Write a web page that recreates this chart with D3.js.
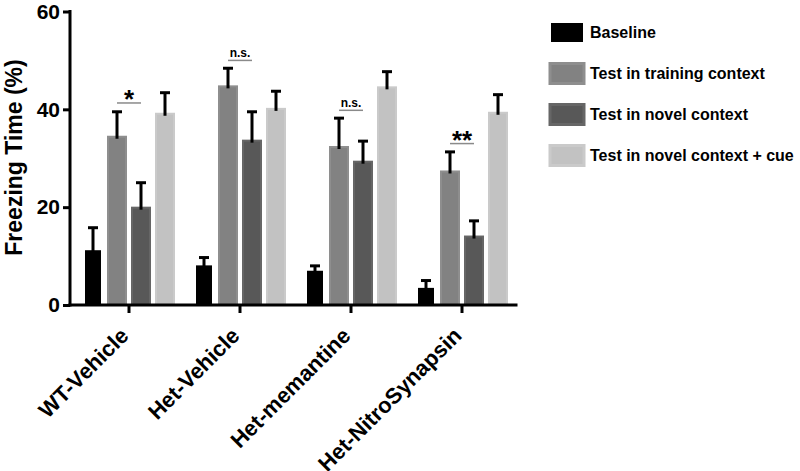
<!DOCTYPE html>
<html>
<head>
<meta charset="utf-8">
<script src="https://cdn.jsdelivr.net/npm/d3@7"></script>
<style>
  html, body { margin: 0; padding: 0; background: #fff; }
  svg { display: block; }
  text { font-family: "Liberation Sans", Arial, sans-serif; font-weight: bold; fill: #000; }
</style>
</head>
<body>
<svg id="chart" width="800" height="471"></svg>
<script>
// ---- Data ----
const groups = ["WT-Vehicle", "Het-Vehicle", "Het-memantine", "Het-NitroSynapsin"];
const seriesNames = ["Baseline", "Test in training context", "Test in novel context", "Test in novel context + cue"];
const baseline   = [11.2, 8.1, 7.0, 3.5];
const training   = [34.6, 44.9, 32.5, 27.5];
const novel      = [20.1, 33.8, 29.5, 14.2];
const novelCue   = [39.3, 40.3, 44.7, 39.5];
const baselineErr = [4.6, 1.6, 1.0, 1.5];
const trainingErr = [4.9, 3.5, 5.7, 3.8];
const novelErr    = [4.9, 5.7, 4.0, 3.0];
const novelCueErr = [4.1, 3.4, 3.0, 3.5];
const yTicks = [0, 20, 40, 60];
const sigLabels = ["*", "n.s.", "n.s.", "**"];
const sigLevels = [41.3, 50.0, 39.8, 33.0];

const seriesValues = [baseline, training, novel, novelCue];
const seriesErrors = [baselineErr, trainingErr, novelErr, novelCueErr];
const fills   = ["#000000", "#828282", "#585858", "#c2c2c2"];
const strokes = ["#000000", "#8e8e8e", "#666666", "#cacaca"];

// ---- Layout ----
const svg = d3.select("#chart");
const y = d3.scaleLinear().domain([0, 60]).range([305, 11.5]);
const x0 = d3.scaleBand().domain(groups).range([73.5, 517.5]).padding(0);
const x1 = d3.scaleBand().domain(seriesNames).range([-48, 48]).paddingInner(1/6).paddingOuter(1/12);

// Bars
groups.forEach((g, gi) => {
  const gc = x0(g) + x0.bandwidth() / 2;
  seriesNames.forEach((s, si) => {
    const v = seriesValues[si][gi];
    const e = seriesErrors[si][gi];
    const bx = gc + x1(s);
    const bw = x1.bandwidth();
    const cx = bx + bw / 2;
    if (si === 0) {
      svg.append("rect")
        .attr("x", bx + 2).attr("width", bw - 4)
        .attr("y", y(v)).attr("height", y(0) - y(v))
        .attr("fill", fills[si]);
    } else {
      svg.append("rect")
        .attr("x", bx + 1).attr("width", bw - 2)
        .attr("y", y(v) + 1).attr("height", y(0) - y(v) - 1)
        .attr("fill", fills[si])
        .attr("stroke", strokes[si]).attr("stroke-width", 2);
    }
    // error bar
    svg.append("line")
      .attr("x1", cx).attr("x2", cx)
      .attr("y1", y(v) + 3).attr("y2", y(v + e))
      .attr("stroke", "#000").attr("stroke-width", 3);
    svg.append("line")
      .attr("x1", cx - 5).attr("x2", cx + 5)
      .attr("y1", y(v + e)).attr("y2", y(v + e))
      .attr("stroke", "#000").attr("stroke-width", 3);
  });
});

// Significance annotations
groups.forEach((g, gi) => {
  const gc = x0(g) + x0.bandwidth() / 2;
  const xa = gc + x1(seriesNames[1]) + x1.bandwidth() / 2;
  const xb = gc + x1(seriesNames[2]) + x1.bandwidth() / 2;
  const ly = y(sigLevels[gi]);
  svg.append("line")
    .attr("x1", xa).attr("x2", xb).attr("y1", ly).attr("y2", ly)
    .attr("stroke", "#8a8a8a").attr("stroke-width", 1.5);
  const isStar = sigLabels[gi].startsWith("*");
  svg.append("text")
    .attr("x", (xa + xb) / 2)
    .attr("y", isStar ? ly + 5 : ly - 3.5)
    .attr("text-anchor", "middle")
    .attr("font-size", isStar ? 26 : 12)
    .text(sigLabels[gi]);
});

// Y axis
const yAxis = svg.append("g").attr("transform", "translate(70,0)")
  .call(d3.axisLeft(y).tickValues(yTicks).tickSize(7).tickPadding(3).tickFormat(d3.format("d")));
yAxis.select(".domain").attr("stroke", "#000").attr("stroke-width", 3)
  .attr("d", `M0,${y(60) - 1.5}V${y(0) + 1.5}`);
yAxis.selectAll(".tick line").attr("stroke", "#000").attr("stroke-width", 3);
yAxis.selectAll(".tick text").attr("font-size", 21).attr("font-family", "Liberation Sans, Arial, sans-serif")
  .attr("font-weight", "bold").attr("fill", "#000");

// X axis
const xAxis = svg.append("g").attr("transform", `translate(0,${y(0)})`)
  .call(d3.axisBottom(x0).tickSize(8).tickFormat(""));
xAxis.select(".domain").attr("stroke", "#000").attr("stroke-width", 3)
  .attr("d", `M68.5,0H517.5`);
xAxis.selectAll(".tick line").attr("stroke", "#000").attr("stroke-width", 3);

// X labels (rotated)
groups.forEach(g => {
  const gc = x0(g) + x0.bandwidth() / 2;
  svg.append("text")
    .attr("transform", `translate(${gc + 1},337) rotate(-45)`)
    .attr("text-anchor", "end")
    .attr("font-size", 22)
    .text(g);
});

// Y title
svg.append("text")
  .attr("transform", "translate(21.5,157.5) rotate(-90)")
  .attr("text-anchor", "middle")
  .attr("font-size", 23)
  .text("Freezing Time (%)");

// Legend
seriesNames.forEach((s, si) => {
  const cy = 32.5 + si * 41;
  if (si === 0) {
    svg.append("rect").attr("x", 551).attr("y", cy - 9.5).attr("width", 32).attr("height", 19).attr("fill", "#000");
  } else {
    svg.append("rect").attr("x", 550).attr("y", cy - 10).attr("width", 34).attr("height", 20)
      .attr("fill", fills[si]).attr("stroke", strokes[si]).attr("stroke-width", 3);
  }
  svg.append("text")
    .attr("x", 590).attr("y", cy).attr("dy", "0.35em")
    .attr("font-size", 16)
    .text(s);
});
</script>
</body>
</html>
